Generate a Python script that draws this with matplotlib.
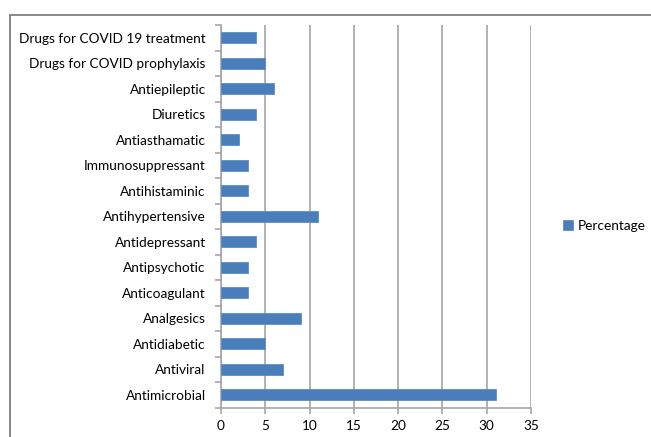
import numpy as np
import matplotlib
matplotlib.use("Agg")
import matplotlib.pyplot as plt
from matplotlib.patches import Rectangle

categories = [
    "Antimicrobial", "Antiviral", "Antidiabetic", "Analgesics", "Anticoagulant",
    "Antipsychotic", "Antidepressant", "Antihypertensive", "Antihistaminic",
    "Immunosuppressant", "Antiasthamatic", "Diuretics", "Antiepileptic",
    "Drugs for COVID prophylaxis", "Drugs for COVID 19 treatment",
]
percentage = [31, 7, 5, 9, 3, 3, 4, 11, 3, 3, 2, 4, 6, 5, 4]
x_ticks = [0, 5, 10, 15, 20, 25, 30, 35]

plt.rcParams["font.family"] = ["Lato", "DejaVu Sans"]
FS = 9.8

W, H = 651, 437
fig = plt.figure(figsize=(W / 100, H / 100), dpi=100)
fig.patch.set_facecolor("white")

# outer chart-area frame (runs off the right and bottom edges)
fig.patches.append(Rectangle((10 / W, -0.1), 1.2, 1 - 15 / H + 0.1,
                             transform=fig.transFigure, fill=False,
                             edgecolor="#7f7f7f", linewidth=1.3, zorder=0))

ax = fig.add_axes([221 / W, 1 - 407.5 / H, (531 - 221) / W, (407.5 - 25) / H])
y = np.arange(len(categories))
bar_color = "#4a7ebb"
ax.barh(y, percentage, height=0.43, color=bar_color, edgecolor="#5b8cc8",
        linewidth=0.6, label="Percentage", zorder=3)

ax.set_xlim(0, 35)
ax.set_ylim(-0.5, len(categories) - 0.5)
ax.set_xticks(x_ticks)
ax.set_xticklabels([str(t) for t in x_ticks])
ax.set_yticks(y)
ax.set_yticklabels(categories)
ax.set_yticks(np.arange(-0.5, len(categories), 1.0), minor=True)

gray = "#a6a6a6"
ax.grid(axis="x", color=gray, linewidth=1.2, zorder=0)
ax.set_axisbelow(True)
for s in ["top", "right"]:
    ax.spines[s].set_visible(False)
for s in ["left", "bottom"]:
    ax.spines[s].set_color(gray)
    ax.spines[s].set_linewidth(1.2)

ax.tick_params(axis="y", which="major", length=0, pad=11, labelsize=FS,
               labelcolor="black")
ax.tick_params(axis="y", which="minor", length=4, color=gray, width=1.2)
ax.tick_params(axis="x", which="major", length=4, color=gray, width=1.2,
               pad=5, labelsize=FS, labelcolor="black")

leg = ax.legend(loc="center left", bbox_to_anchor=(563 / W, 1 - 226 / H),
                bbox_transform=fig.transFigure, frameon=False, fontsize=FS,
                handlelength=0.75, handleheight=0.75, handletextpad=0.35,
                borderpad=0, borderaxespad=0)

fig.savefig("out.png", dpi=100)
